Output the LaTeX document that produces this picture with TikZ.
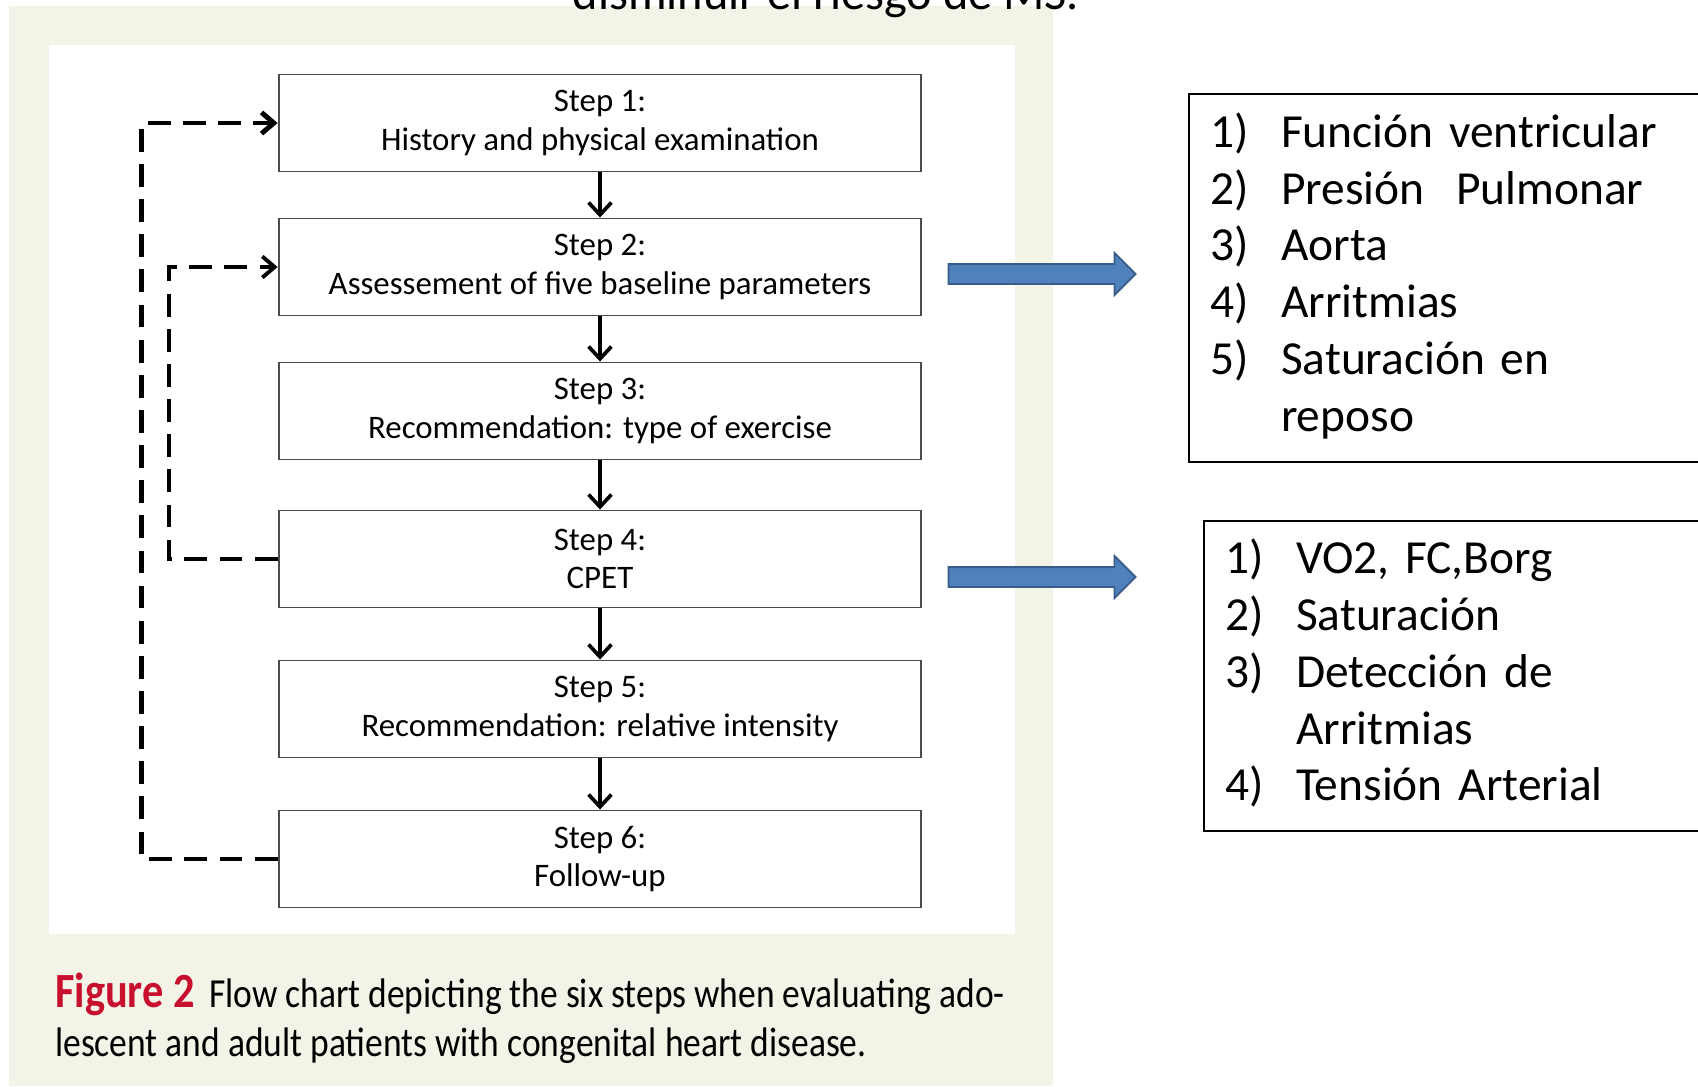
\documentclass[tikz,border=0pt]{standalone}
\usepackage{fontspec}
\setmainfont{Carlito}
\newfontfamily\capfont[FakeStretch=0.86]{Carlito}
\usetikzlibrary{shapes.arrows,arrows.meta,positioning}
\definecolor{paper}{HTML}{F4F3E7}
\definecolor{figred}{HTML}{C8102E}
\definecolor{arrowfill}{HTML}{4F81BD}
\definecolor{arrowline}{HTML}{385D8A}

\begin{document}
\begin{tikzpicture}[x=0.02cm,y=-0.02cm]
\tikzset{stepbox/.style={draw=black!70,line width=1.1pt,fill=white,minimum width=12.86cm,minimum height=1.94cm,align=center,font=\fontsize{18.7}{22}\selectfont},
  loop line/.style={line width=#1,dash pattern=on 13pt off 7pt,-{Straight Barb[length=7pt,width=12pt]}},
  flow/.style={line width=2.1pt,-{Straight Barb[length=7pt,width=13pt]}},
  listbox/.style={draw,line width=1.2pt,anchor=north west,minimum width=12cm,text width=11.2cm,inner xsep=0.42cm,align=left,font=\fontsize{27}{32.3}\selectfont},
  bluearrow/.style={single arrow,draw=arrowline,fill=arrowfill,line width=1.1pt,inner sep=0.18cm,minimum height=3.74cm,single arrow head extend=0.22cm}}
\useasboundingbox (0,0) rectangle (1698,1086);
\clip (0,0) rectangle (1698,1086);
\fill[paper] (9,6) rectangle (1053,1086);
\fill[white] (49,45) rectangle (1015,934);

\node[anchor=base,font=\fontsize{27.5}{30}\selectfont] (title) at (826,9) {disminuir el riesgo de MS.};

\node[stepbox] (step1) at (600,123) {Step 1:\\History and physical examination};
\node[stepbox] (step2) at (600,267) {Step 2:\\Assessement of five baseline parameters};
\node[stepbox] (step3) at (600,411) {Step 3:\\Recommendation: type of exercise};
\node[stepbox] (step4) at (600,559) {Step 4:\\CPET};
\node[stepbox] (step5) at (600,709) {Step 5:\\Recommendation: relative intensity};
\node[stepbox] (step6) at (600,859) {Step 6:\\Follow-up};
\foreach \a/\b in {step1/step2,step2/step3,step3/step4,step4/step5,step5/step6}
  \draw[flow] (\a) -- (\b);

\draw[loop line=2.8pt] (step6.west) -- ++(-136,0) |- (step1.west);
\draw[loop line=2.2pt] (step4.west) -- ++(-109,0) |- (step2.west);

\node[bluearrow] (arrowa) at (1037,274) {};
\node[bluearrow] (arrowb) at (1037,577) {};

\node[listbox,minimum height=7.36cm] (lista) at (1188,93) {\begin{tabular}{@{}p{1.42cm}@{}l@{}}
1) & Función ventricular\\
2) & Presión~ Pulmonar\\
3) & Aorta\\
4) & Arritmias\\
5) & Saturación en\\
   & reposo
\end{tabular}};
\node[listbox,minimum height=6.2cm] (listb) at (1203,520) {\begin{tabular}{@{}p{1.42cm}@{}l@{}}
1) & VO2, FC,Borg\\
2) & Saturación\\
3) & Detección de\\
   & Arritmias\\
4) & Tensión Arterial
\end{tabular}};

\node[anchor=base west,font=\capfont\fontsize{23.5}{28}\selectfont] (caption1) at (49,1007) {{\bfseries\fontsize{28}{28}\selectfont\color{figred}Figure 2}\hspace{0.35em}Flow chart depicting the six steps when evaluating ado-};
\node[anchor=base west,font=\capfont\fontsize{23.5}{28}\selectfont] (caption2) at (49,1056) {lescent and adult patients with congenital heart disease.};
\end{tikzpicture}
\end{document}
